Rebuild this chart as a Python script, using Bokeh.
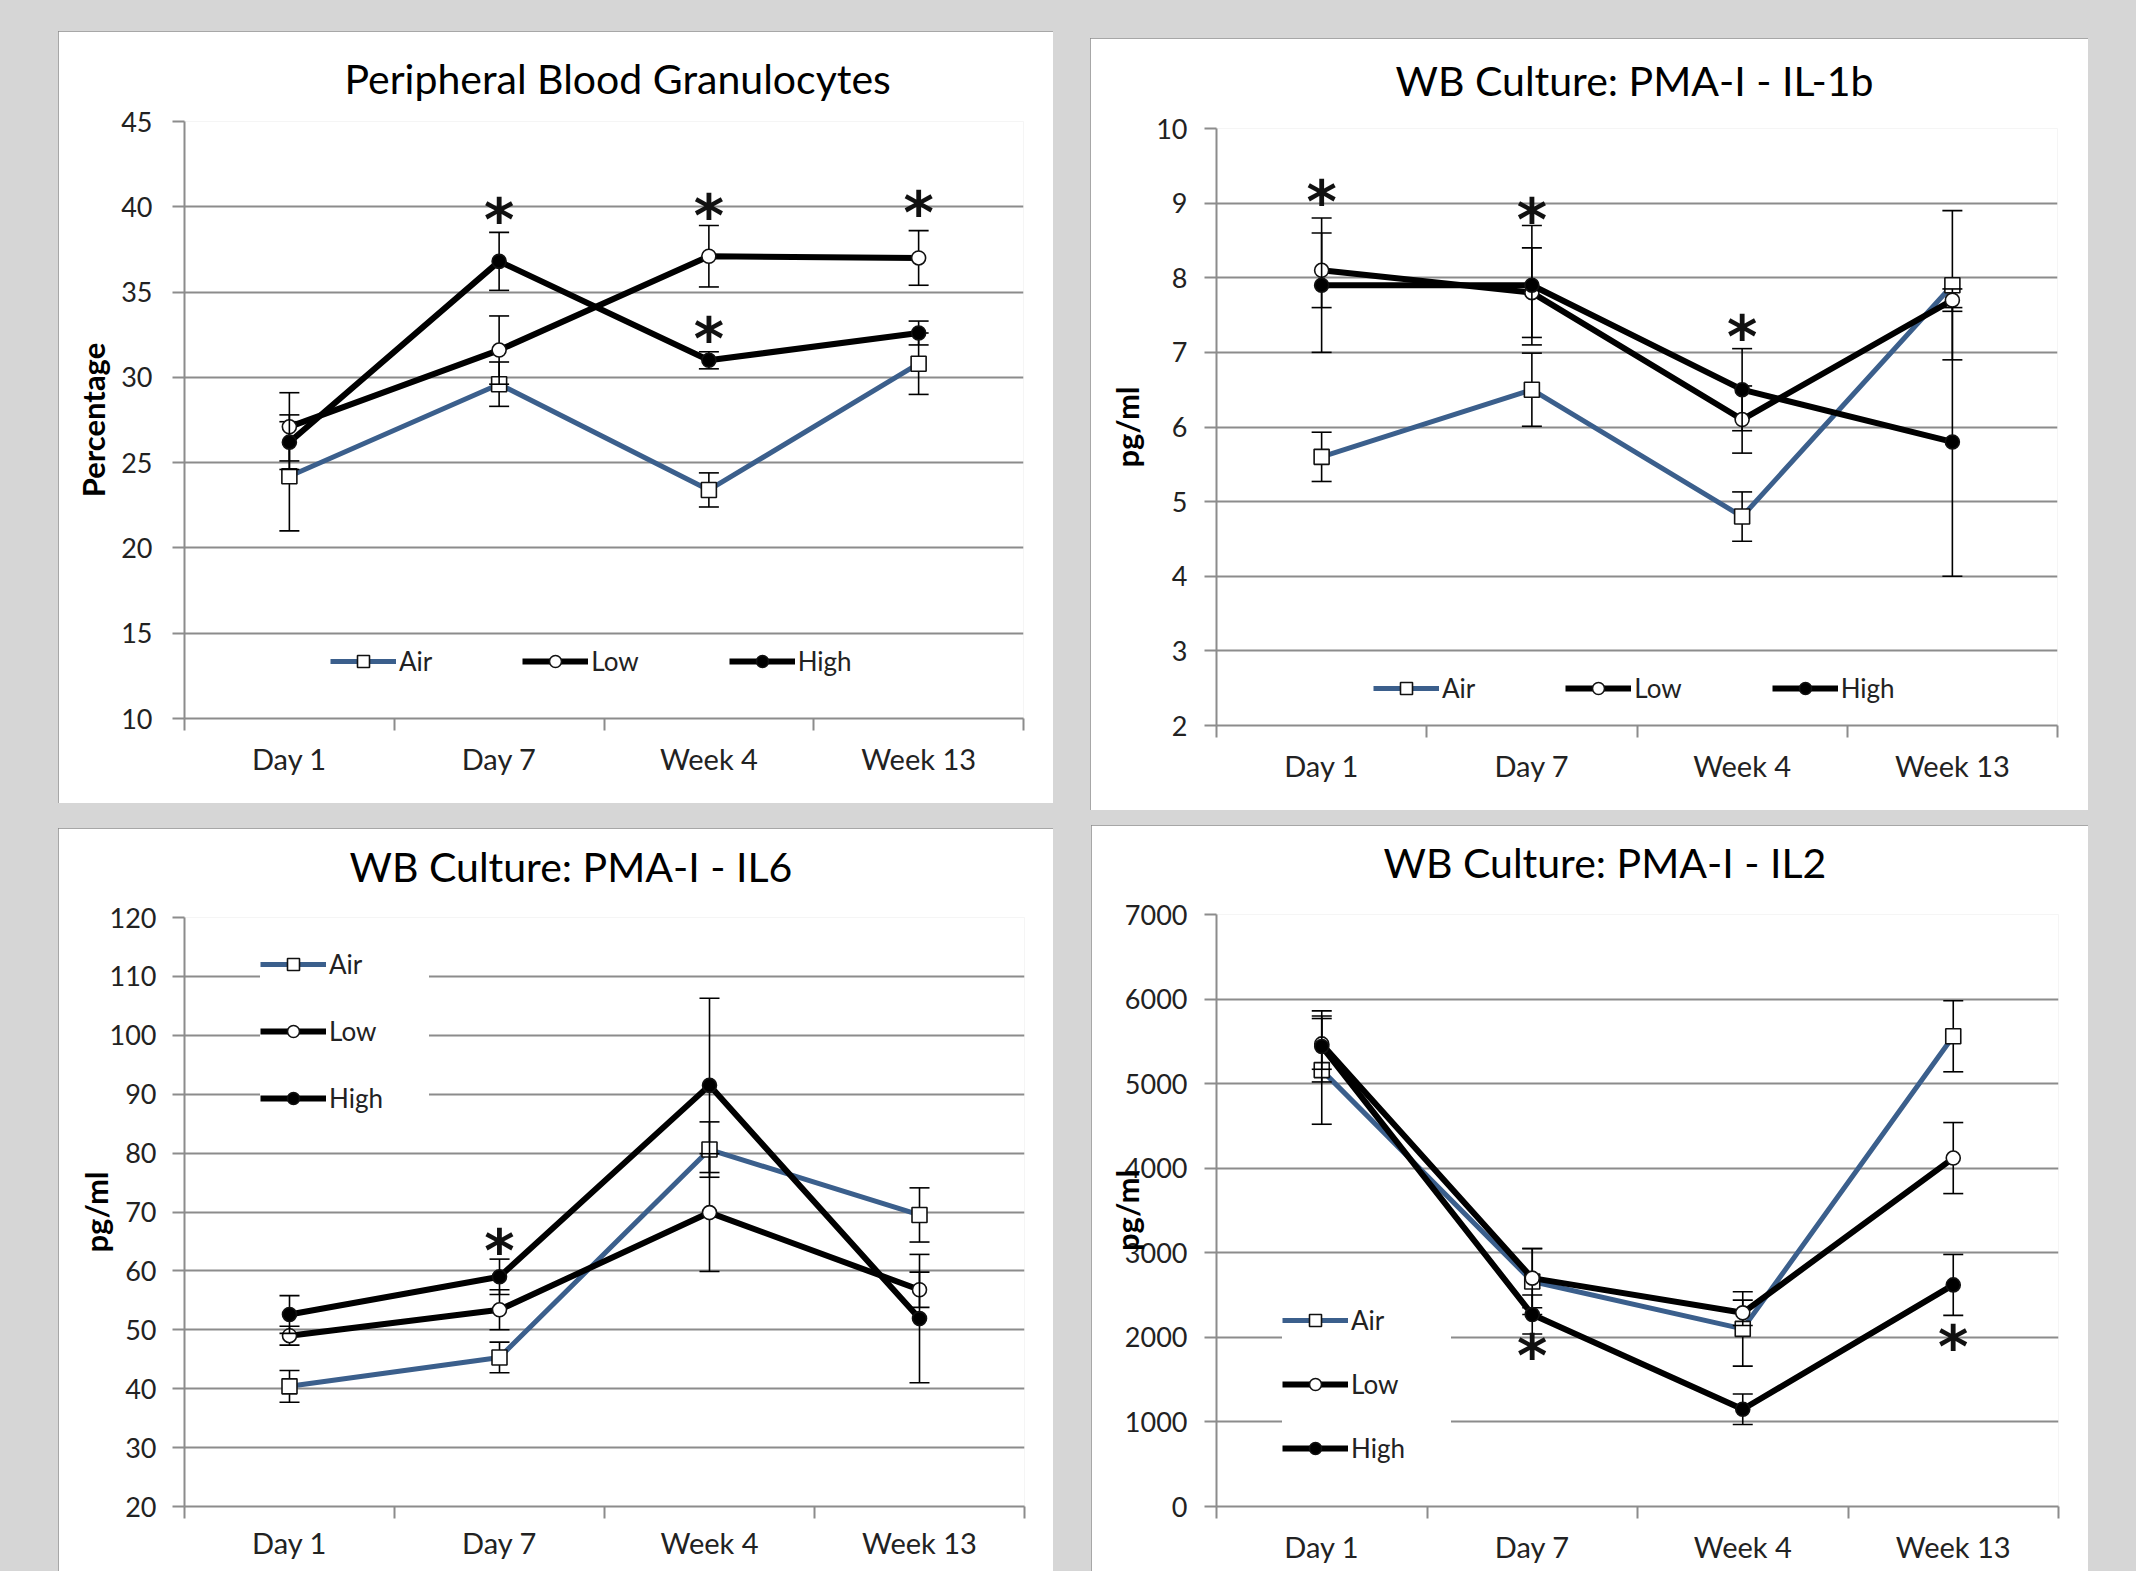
from bokeh.plotting import figure
from bokeh.models import Range1d, FixedTicker, Legend, LegendItem, ColumnDataSource, Title
from bokeh.layouts import row, column
from bokeh.embed import file_html
from bokeh.resources import INLINE
from bokeh.core.properties import value

timepoints = ["Day 1", "Day 7", "Week 4", "Week 13"]
groups = ["Air", "Low", "High"]

# Peripheral blood granulocytes (%), mean and error
gran_air = [24.2, 29.6, 23.4, 30.8]
gran_air_err = [3.2, 1.3, 1.0, 1.8]
gran_low = [27.1, 31.6, 37.1, 37.0]
gran_low_err = [2.0, 2.0, 1.8, 1.6]
gran_high = [26.2, 36.8, 31.0, 32.6]
gran_high_err = [1.6, 1.7, 0.5, 0.7]
gran_stars = [("Day 7", 39.6), ("Week 4", 39.8), ("Week 4", 32.6), ("Week 13", 40.0)]

# Whole-blood culture, PMA-I stimulated IL-1b (pg/ml)
il1b_air = [5.6, 6.5, 4.8, 7.9]
il1b_air_err = [0.33, 0.49, 0.33, 1.0]
il1b_low = [8.1, 7.8, 6.1, 7.7]
il1b_low_err = [0.5, 0.6, 0.45, 0.15]
il1b_high = [7.9, 7.9, 6.5, 5.8]
il1b_high_err = [0.9, 0.8, 0.55, 1.8]
il1b_stars = [("Day 1", 9.1), ("Day 7", 8.85), ("Week 4", 7.28)]

# Whole-blood culture, PMA-I stimulated IL6 (pg/ml)
il6_air = [40.4, 45.3, 80.6, 69.5]
il6_air_err = [2.7, 2.6, 4.7, 4.6]
il6_low = [49.0, 53.4, 69.9, 56.8]
il6_low_err = [1.6, 3.4, 10.0, 3.0]
il6_high = [52.6, 59.0, 91.5, 51.9]
il6_high_err = [3.2, 3.0, 14.8, 10.9]
il6_stars = [("Day 7", 64.4)]

# Whole-blood culture, PMA-I stimulated IL2 (pg/ml)
il2_air = [5160, 2660, 2100, 5560]
il2_air_err = [640, 390, 440, 420]
il2_low = [5470, 2700, 2290, 4120]
il2_low_err = [300, 350, 150, 420]
il2_high = [5440, 2270, 1150, 2620]
il2_high_err = [420, 230, 180, 360]
il2_stars = [("Day 7", 1850), ("Week 13", 1960)]

FONT = "Lato"
GRID = "#8c8c8c"
AIR_BLUE = "#3b5f8c"
STYLES = {
    "Air": dict(color=AIR_BLUE, marker="square", size=15, fill="white", width=5),
    "Low": dict(color="black", marker="circle", size=14, fill="white", width=6),
    "High": dict(color="black", marker="circle", size=14, fill="black", width=6),
}


def make_panel(title, title_offset, title_gap, ylabel, y_lo, y_hi, y_step,
               series, stars, size, borders, tick_standoff, label_standoff,
               x_label_standoff, legend_cfg):
    n = len(timepoints)
    centers = [i + 0.5 for i in range(n)]
    pos = dict(zip(timepoints, centers))
    p = figure(width=size[0], height=size[1], x_range=Range1d(0, n),
               y_range=Range1d(y_lo, y_hi), output_backend="svg",
               toolbar_location=None,
               min_border_left=borders[0], min_border_right=borders[1],
               min_border_top=borders[2], min_border_bottom=borders[3],
               background_fill_color="white", border_fill_color="white")
    p.outline_line_color = None
    p.xgrid.visible = False

    # blank strip between the frame and the title
    p.add_layout(Title(text=" ", text_font_size="1px", standoff=title_gap), "above")
    p.title.text = title
    p.title.align = "left"
    p.title.offset = title_offset
    p.title.standoff = 10
    p.title.text_font = FONT
    p.title.text_font_size = "41px"
    p.title.text_font_style = "normal"
    p.title.text_color = "black"

    xax = p.xaxis[0]
    xax.ticker = FixedTicker(ticks=centers, minor_ticks=list(range(n + 1)))
    xax.major_label_overrides = {c: t for c, t in zip(centers, timepoints)}
    xax.major_tick_line_color = None
    xax.major_tick_out = 0
    xax.major_tick_in = 0
    xax.minor_tick_out = 12
    xax.minor_tick_in = 0
    xax.minor_tick_line_color = GRID
    xax.minor_tick_line_width = 2
    xax.major_label_standoff = x_label_standoff
    xax.major_label_text_font = FONT
    xax.major_label_text_font_size = "29px"
    xax.major_label_text_color = "#222222"
    xax.axis_line_color = GRID
    xax.axis_line_width = 2

    yticks = list(range(y_lo, y_hi + y_step, y_step))
    yax = p.yaxis[0]
    yax.ticker = FixedTicker(ticks=yticks)
    p.ygrid.ticker = FixedTicker(ticks=yticks)
    p.ygrid.grid_line_color = GRID
    p.ygrid.grid_line_width = 2
    yax.major_tick_out = 12
    yax.major_tick_in = 0
    yax.major_tick_line_color = GRID
    yax.major_tick_line_width = 2
    yax.minor_tick_line_color = None
    yax.axis_line_color = GRID
    yax.axis_line_width = 2
    yax.major_label_standoff = tick_standoff
    yax.major_label_text_font = FONT
    yax.major_label_text_font_size = "27px"
    yax.major_label_text_color = "#222222"
    yax.axis_label = ylabel
    yax.axis_label_text_font = FONT
    yax.axis_label_text_font_style = "bold"
    yax.axis_label_text_font_size = "31px"
    yax.axis_label_text_color = "black"
    yax.axis_label_standoff = label_standoff

    items = []
    for name in groups:
        vals, errs = series[name]
        st = STYLES[name]
        src = ColumnDataSource(dict(
            x=centers, y=vals,
            lo=[v - e for v, e in zip(vals, errs)],
            hi=[v + e for v, e in zip(vals, errs)],
        ))
        p.segment(x0="x", y0="lo", x1="x", y1="hi", source=src,
                  line_color="black", line_width=1.6)
        p.scatter("x", "lo", source=src, marker="dash", size=20,
                  line_color="black", line_width=1.6)
        p.scatter("x", "hi", source=src, marker="dash", size=20,
                  line_color="black", line_width=1.6)
        ln = p.line("x", "y", source=src, line_color=st["color"],
                    line_width=st["width"])
        mk = p.scatter("x", "y", source=src, marker=st["marker"], size=st["size"],
                       fill_color=st["fill"], line_color="#111111", line_width=1.6)
        items.append(LegendItem(label=name, renderers=[ln, mk]))

    # significance markers
    star_src = ColumnDataSource(dict(
        x=[pos[t] for t, _ in stars], y=[v for _, v in stars],
        t=["*"] * len(stars)))
    p.text("x", "y", text="t", source=star_src, text_font=value("DejaVu Sans"),
           text_font_size="58px", text_font_style="bold", text_align="center",
           text_baseline="middle", y_offset=6, text_color="#111111")

    leg = Legend(items=items, orientation=legend_cfg["orientation"],
                 location=legend_cfg["location"],
                 background_fill_color="white", background_fill_alpha=1.0,
                 border_line_color=None, padding=legend_cfg["padding"],
                 spacing=legend_cfg["spacing"], glyph_width=66, glyph_height=30,
                 label_height=30, label_width=legend_cfg.get("label_width", 20),
                 label_standoff=3, label_text_font=FONT,
                 label_text_font_size="26px", label_text_color="#222222")
    p.add_layout(leg)
    return p


panel_outline = {"outline": "2px solid #8a8a8a", "outline-offset": "-2px"}

p1 = make_panel(
    "Peripheral Blood Granulocytes", 160, 11, "Percentage", 10, 45, 5,
    {"Air": (gran_air, gran_air_err), "Low": (gran_low, gran_low_err),
     "High": (gran_high, gran_high_err)}, gran_stars,
    (995, 772), (126, 30, 90, 84), 20, 6, 10,
    dict(orientation="horizontal", location=(146, 41), padding=14, spacing=90))

p2 = make_panel(
    "WB Culture: PMA-I - IL-1b", 179, 16, "pg/ml", 2, 10, 1,
    {"Air": (il1b_air, il1b_air_err), "Low": (il1b_low, il1b_low_err),
     "High": (il1b_high, il1b_high_err)}, il1b_stars,
    (998, 772), (126, 31, 88, 85), 17, 7, 10,
    dict(orientation="horizontal", location=(157, 21), padding=14, spacing=90))

p3 = make_panel(
    "WB Culture: PMA-I - IL6", 165, 19, "pg/ml", 20, 120, 10,
    {"Air": (il6_air, il6_air_err), "Low": (il6_low, il6_low_err),
     "High": (il6_high, il6_high_err)}, il6_stars,
    (995, 743), (126, 29, 89, 61), 16, -8, 6,
    dict(orientation="vertical", location=(76, 392), padding=28, spacing=35,
         label_width=100))

p4 = make_panel(
    "WB Culture: PMA-I - IL2", 167, 20, "pg/ml", 0, 7000, 1000,
    {"Air": (il2_air, il2_air_err), "Low": (il2_low, il2_low_err),
     "High": (il2_high, il2_high_err)}, il2_stars,
    (997, 746), (125, 30, 88, 65), 17, -24, 10,
    dict(orientation="vertical", location=(66, 42), padding=20, spacing=32,
         label_width=100))

for fig in (p1, p2, p3, p4):
    fig.styles = panel_outline

p1.margin = (31, 0, 0, 58)
p2.margin = (38, 48, 0, 37)
p3.margin = (18, 0, 0, 58)
p4.margin = (15, 48, 0, 38)

page = column(row(p1, p2), row(p3, p4),
              styles={"background-color": "#d6d6d6"})

open("out.html", "w").write(file_html(page, INLINE))
